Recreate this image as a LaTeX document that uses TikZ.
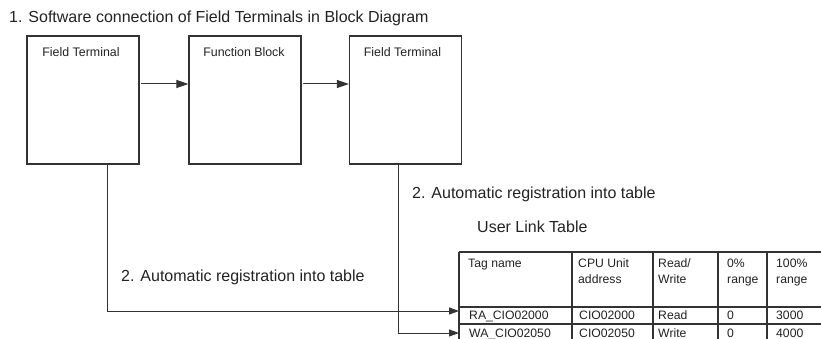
\documentclass[tikz,border=0pt]{standalone}
\usepackage{fontspec}
\setmainfont{Liberation Sans}
\usetikzlibrary{arrows.meta, calc, positioning}
\definecolor{linegray}{HTML}{333333}
\definecolor{textgray}{HTML}{222222}

\begin{document}
\begin{tikzpicture}[x=1pt, y=-1pt,
  blkbox/.style = {draw=linegray, line width=1.2pt, minimum width=112pt, minimum height=128pt, inner sep=0pt},
  blklbl/.style = {anchor=base, inner sep=0pt, font=\fontsize{12.4}{14}\selectfont, text=textgray},
  note/.style = {anchor=base west, inner sep=0pt, font=\fontsize{16}{19}\selectfont, text=textgray},
  cell/.style = {anchor=base west, inner sep=0pt, align=left, font=\fontsize{12.2}{16}\selectfont, text=textgray},
  tbl/.style = {draw=linegray, line width=1.1pt},
  arr/.style = {-{Triangle[length=12pt,width=8pt]}, line width=1pt, color=linegray},
  arrsm/.style = {-{Triangle[length=10pt,width=7pt]}, line width=1pt, color=linegray},
]
\path[use as bounding box] (0,0) rectangle (821,339);
\clip (0,0) rectangle (821,339);
\node[note] (title) at (9,23) {1. Software connection of Field Terminals in Block Diagram};
\node[blkbox] (ft1) at (83,100) {};
\node[blkbox] (fb) at (245,100) {};
\node[blkbox] (ft2) at (405.5,100) {};
\node[blklbl] (ft1lbl) at (81,57) {Field Terminal};
\node[blklbl] (fblbl) at (244,57) {Function Block};
\node[blklbl] (ft2lbl) at (402.5,57) {Field Terminal};
\draw[arr, shorten <=1.5pt] ([yshift=16pt]ft1.east) -- ([yshift=16pt]fb.west);
\draw[arr, shorten <=1.5pt] ([yshift=16pt]fb.east) -- ([yshift=16pt]ft2.west);
\node[note] (regright) at (412,198) {2. Automatic registration into table};
\node[note] (tblname) at (477,232) {User Link Table};
\node[note] (regleft) at (121,281) {2. Automatic registration into table};
\foreach \cx in {459,572,653,718,767}
  \draw[tbl] (\cx,252) -- (\cx,339);
\foreach \ry in {252,307,324}
  \draw[tbl] (459,\ry) -- (821,\ry);
\node[cell] (hTag) at (468,267) {Tag name};
\node[cell] (hCpu) at (578,283) {CPU Unit\\address};
\node[cell] (hRw) at (658,283) {Read/\\Write};
\node[cell] (hLo) at (727,283) {0\%\\range};
\node[cell] (hHi) at (776,283) {100\%\\range};
\node[cell] (raTag) at (469,319) {RA\_CIO02000};
\node[cell] (raCpu) at (579,319) {CIO02000};
\node[cell] (raRw) at (658,319) {Read};
\node[cell] (raLo) at (727,319) {0};
\node[cell] (raHi) at (776,319) {3000};
\node[cell] (waTag) at (469,337) {WA\_CIO02050};
\node[cell] (waCpu) at (579,337) {CIO02050};
\node[cell] (waRw) at (658,337) {Write};
\node[cell] (waLo) at (727,337) {0};
\node[cell] (waHi) at (776,337) {4000};
\coordinate (ra) at (459,311);
\coordinate (wa) at (459,333);
\draw[arrsm] ([xshift=24pt]ft1.south) |- (ra);
\draw[arrsm] ([xshift=-7.5pt]ft2.south) |- (wa);
\end{tikzpicture}
\end{document}
